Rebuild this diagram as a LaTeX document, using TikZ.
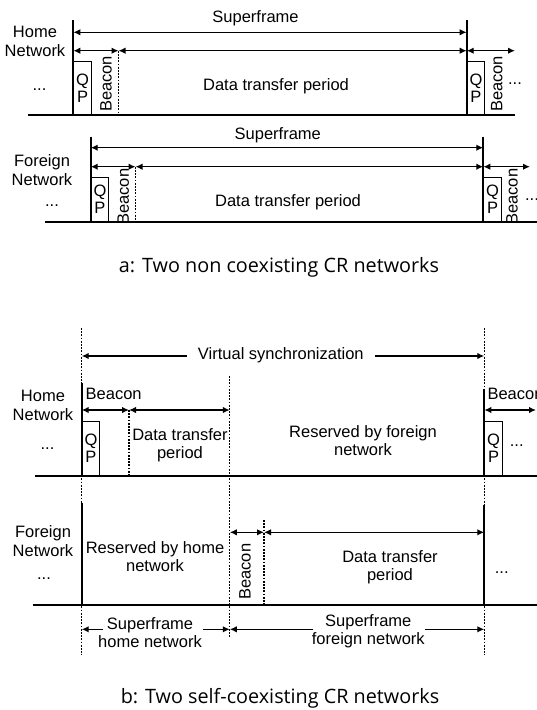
\documentclass[tikz,border=0pt]{standalone}
\usepackage{fontspec}
\setmainfont{Liberation Sans}
\newfontfamily\capfont{Open Sans}
\usetikzlibrary{arrows.meta}
\begin{document}
\begin{tikzpicture}[x=1pt,y=-1pt]
    \tikzset{ht/.tip = {Latex[length=7pt,width=6.5pt]},
      lbl/.style = {font=\fontsize{16.5}{19}\selectfont,align=center,inner sep=0pt},
      two/.style = {lbl,font=\fontsize{16.5}{18}\selectfont},
      ellip/.style = {lbl,anchor=base},
      beacon/.style = {lbl,rotate=90},
      qpbox/.style = {draw=black,line width=1.1pt,minimum width=17.4pt,inner sep=0pt,anchor=south west,align=center,font=\fontsize{16.5}{17}\selectfont},
      slot/.style = {line width=2pt},
      base/.style = {line width=1.6pt},
      span/.style = {line width=1.35pt,ht-ht},
      half/.style = {line width=1.35pt,-ht},
      bound/.style = {line width=1.2pt,dash pattern=on 1.8pt off 1.4pt},
      caption/.style = {inner sep=0pt,font=\capfont\fontsize{19.8}{22}\selectfont}}
    \clip (0,0) rectangle (537,710);
    % a: home network
    \def\xa{73.3}
    \def\xb{466.7}
    \node[lbl] (hnet) at (35,41) {Home\\Network};
    \node[ellip] (hdl) at (39.5,90.5) {...};
    \node[ellip] (hdr) at (515,84.8) {...};
    \node[lbl] (hsup) at (255.5,18.5) {Superframe};
    \node[lbl] (hdat) at (276,86.7) {Data transfer period};
    \node[qpbox,minimum height=52.7pt] (hqp1) at (\xa,115) {Q\\P};
    \node[qpbox,minimum height=52.7pt] (hqp2) at (\xb,115) {Q\\P};
    \node[beacon] (hbc1) at (106,84) {Beacon};
    \node[beacon] (hbc2) at (496.7,84) {Beacon};
    \coordinate (hb0) at (28,115);
    \coordinate (hb1) at (515,115);
    \coordinate (hv1t) at (\xa,20);
    \coordinate (hv1b) at (\xa,115);
    \coordinate (hv2t) at (\xb,20);
    \coordinate (hv2b) at (\xb,115);
    \coordinate (hs1) at (\xa,32.3);
    \coordinate (hs2) at (\xb,32.3);
    \coordinate (hr1) at (\xa,50.7);
    \coordinate (hr2) at (118.5,50.7);
    \coordinate (hr3) at (\xb,50.7);
    \coordinate (hr4) at (515,50.7);
    \coordinate (hd) at (118.5,115);
    \draw[base] (hb0) -- (hb1);
    \draw[slot] (hv1t) -- (hv1b);
    \draw[slot] (hv2t) -- (hv2b);
    \draw[span] (hs1) -- (hs2);
    \draw[span] (hr1) -- (hr2);
    \draw[span] (hr2) -- (hr3);
    \draw[span] (hr3) -- (hr4);
    \draw[bound] (hr2) -- (hd);
    % a: foreign network
    \def\xc{90.7}
    \def\xd{483.3}
    \node[lbl] (fnet) at (42,170.5) {Foreign\\Network};
    \node[ellip] (fdl) at (52,206.5) {...};
    \node[ellip] (fdr) at (532,200.5) {...};
    \node[lbl] (fsup) at (277.8,135) {Superframe};
    \node[lbl] (fdat) at (288,202.7) {Data transfer period};
    \node[qpbox,minimum height=43.4pt] (fqp1) at (\xc,221.7) {Q\\P};
    \node[qpbox,minimum height=43.4pt] (fqp2) at (\xd,221.7) {Q\\P};
    \node[beacon] (fbc1) at (123.3,196.7) {Beacon};
    \node[beacon] (fbc2) at (512,196.7) {Beacon};
    \coordinate (fb0) at (45,221.7);
    \coordinate (fb1) at (537,221.7);
    \coordinate (fv1t) at (\xc,136.7);
    \coordinate (fv1b) at (\xc,221.7);
    \coordinate (fv2t) at (\xd,136.7);
    \coordinate (fv2b) at (\xd,221.7);
    \coordinate (fs1) at (\xc,147.7);
    \coordinate (fs2) at (\xd,147.7);
    \coordinate (fr1) at (\xc,166.7);
    \coordinate (fr2) at (135.5,166.7);
    \coordinate (fr3) at (\xd,166.7);
    \coordinate (fr4) at (530,166.7);
    \coordinate (fd) at (135.5,221.7);
    \draw[base] (fb0) -- (fb1);
    \draw[slot] (fv1t) -- (fv1b);
    \draw[slot] (fv2t) -- (fv2b);
    \draw[span] (fs1) -- (fs2);
    \draw[span] (fr1) -- (fr2);
    \draw[span] (fr2) -- (fr3);
    \draw[span] (fr3) -- (fr4);
    \draw[bound] (fr2) -- (fd);
    \node[caption] (capa) at (279,267) {a: Two non coexisting CR networks};
    % b: self-coexisting networks
    \def\xe{81.7}
    \def\xm{229.8}
    \def\xf{484.3}
    \coordinate (g1t) at (\xe,328);
    \coordinate (g1b) at (\xe,655);
    \coordinate (g2t) at (\xf,328);
    \coordinate (g2b) at (\xf,655);
    \coordinate (g3t) at (\xm,376);
    \coordinate (g3b) at (\xm,637);
    \draw[bound] (g1t) -- (g1b);
    \draw[bound] (g2t) -- (g2b);
    \draw[bound] (g3t) -- (g3b);
    \node[lbl,inner xsep=11pt] (vsync) at (280.8,355.5) {Virtual synchronization};
    \coordinate (vs1) at (\xe,356);
    \coordinate (vs2) at (\xf,356);
    \draw[half] (vsync.west |- vs1) -- (vs1);
    \draw[half] (vsync.east |- vs2) -- (vs2);
    % b: home network
    \node[lbl] (bhnet) at (43,405.5) {Home\\Network};
    \node[ellip] (bhdl) at (47.5,449.8) {...};
    \node[ellip] (bhdr) at (516.7,446.5) {...};
    \node[lbl] (bhbc1) at (113.7,394.3) {Beacon};
    \node[lbl,anchor=west] (bhbc2) at (487.3,394.3) {Beacon};
    \node[two] (bhdat) at (180,445) {Data transfer\\period};
    \node[two] (bhres) at (363,441) {Reserved by foreign\\network};
    \node[qpbox,minimum height=54.3pt] (bhqp1) at (\xe,476) {Q\\P};
    \node[qpbox,minimum height=54.3pt] (bhqp2) at (\xf,476) {Q\\P};
    \coordinate (bhb0) at (35,476);
    \coordinate (bhb1) at (537,476);
    \coordinate (bhv1t) at (\xe,383);
    \coordinate (bhv1b) at (\xe,476);
    \coordinate (bhv2t) at (\xf,389);
    \coordinate (bhv2b) at (\xf,476);
    \coordinate (bhr1) at (\xe,410);
    \coordinate (bhr2) at (129,410);
    \coordinate (bhr3) at (\xm,410);
    \coordinate (bhr4) at (\xf,410);
    \coordinate (bhr5) at (536,410);
    \coordinate (bhd) at (129,476);
    \draw[base] (bhb0) -- (bhb1);
    \draw[slot] (bhv1t) -- (bhv1b);
    \draw[slot] (bhv2t) -- (bhv2b);
    \draw[span] (bhr1) -- (bhr2);
    \draw[span] (bhr2) -- (bhr3);
    \draw[span] (bhr4) -- (bhr5);
    \draw[bound] (bhr2) -- (bhd);
    % b: foreign network
    \node[lbl] (bfnet) at (43,541) {Foreign\\Network};
    \node[ellip] (bfdl) at (44,579.8) {...};
    \node[ellip] (bfdr) at (501.7,573.2) {...};
    \node[two] (bfres) at (155,557) {Reserved by home\\network};
    \node[two] (bfdat) at (390,567) {Data transfer\\period};
    \node[beacon] (bfbc) at (245,571.7) {Beacon};
    \coordinate (bfb0) at (33,605);
    \coordinate (bfb1) at (537,605);
    \coordinate (bfv1t) at (\xe,503);
    \coordinate (bfv1b) at (\xe,605);
    \coordinate (bfv2t) at (\xf,505);
    \coordinate (bfv2b) at (\xf,605);
    \coordinate (bfr1) at (\xm,532.3);
    \coordinate (bfr2) at (264,532.3);
    \coordinate (bfr3) at (\xf,532.3);
    \coordinate (bfdt) at (264,520);
    \coordinate (bfdb) at (264,605);
    \draw[base] (bfb0) -- (bfb1);
    \draw[slot] (bfv1t) -- (bfv1b);
    \draw[slot] (bfv2t) -- (bfv2b);
    \draw[span] (bfr1) -- (bfr2);
    \draw[span] (bfr2) -- (bfr3);
    \draw[bound] (bfdt) -- (bfdb);
    % b: superframe spans
    \node[two] (sfh) at (150,632.5) {Superframe\\home network};
    \node[two] (sff) at (368.3,631) {Superframe\\foreign network};
    \coordinate (sf1) at (\xe,629.3);
    \coordinate (sf2) at (103.3,629.3);
    \coordinate (sf3) at (203.3,629.3);
    \coordinate (sf4) at (\xm,629.3);
    \coordinate (sf5) at (313.3,629.3);
    \coordinate (sf6) at (425,629.3);
    \coordinate (sf7) at (\xf,629.3);
    \draw[half] (sf2) -- (sf1);
    \draw[half] (sf3) -- (sf4);
    \draw[half] (sf5) -- (sf4);
    \draw[half] (sf6) -- (sf7);
    \node[caption] (capb) at (280,698) {b: Two self-coexisting CR networks};
\end{tikzpicture}
\end{document}
